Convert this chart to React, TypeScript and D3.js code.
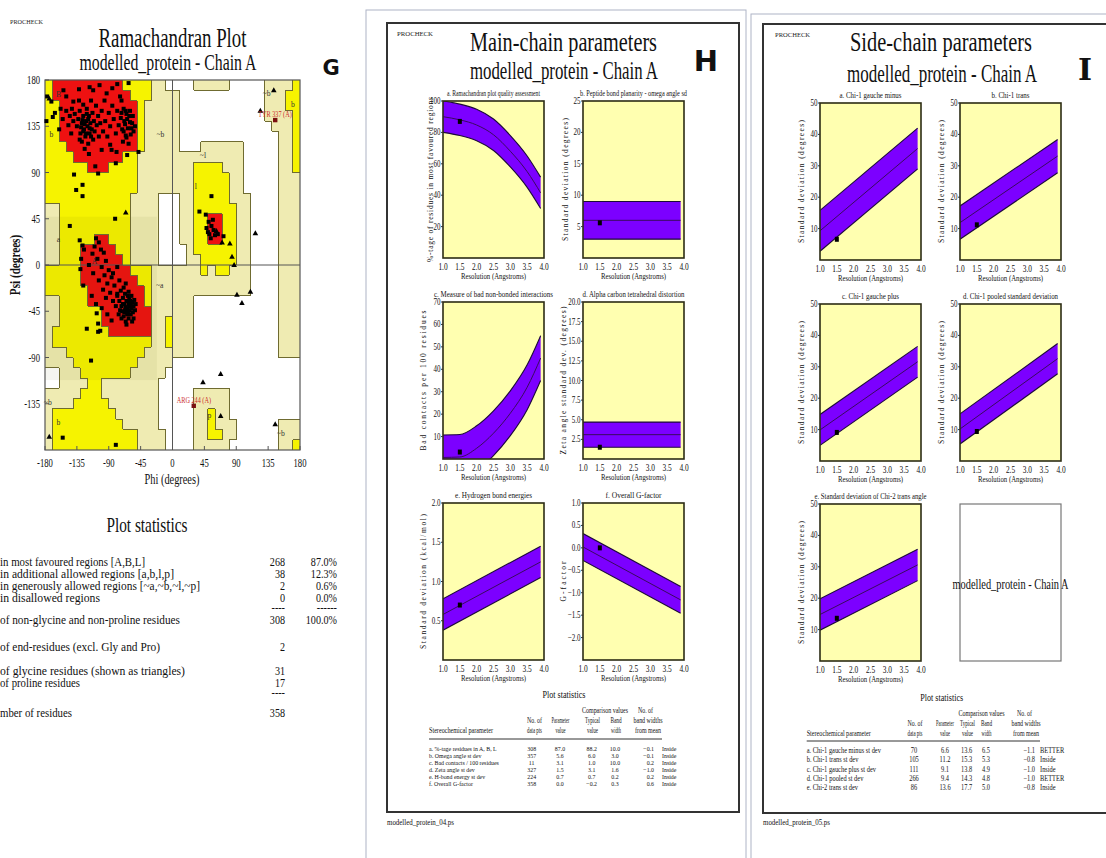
import React from "react";
import * as d3 from "d3";

const SERIF = "'Liberation Serif', 'Times New Roman', serif";
const SANS = "'DejaVu Sans', 'Liberation Sans', sans-serif";

// ---------- Ramachandran plot (G) ----------
const RAMA_TICKS = [-180, -135, -90, -45, 0, 45, 90, 135, 180];
const RAMA_Y_TICKS = [-135, -90, -45, 0, 45, 90, 135, 180];

// 10 degree cells, rows psi 180 -> -180, columns phi -180 -> 180
// R core, Y allowed, P generously allowed, . disallowed
const RAMA_ROWS = [
  "YRRRRRRRRRRYYYYPP....PPPPP.....PPPPY",
  "YRRRRRRRRRRRYYYPPPP............PPPYY",
  "YYRRRRRRRRRRRYPPPPP............PPPYY",
  "YYRRRRRRRRRRRYPPPPP............PPPPY",
  "YYRRRRRRRRRRRYPPPPP.............PPPY",
  "YYRRRRRRRRRRRYPPPPP..............PPY",
  "YYYRRRRRRRRRRYPPPPP...PPPPPP.....PPY",
  "YYYYRRRRRRRYYPPPPPPPPPPPPPPP.....PPY",
  "YYYYYYRRRYYYYPPPPPPPPYYYYPPP.....PPY",
  "YYYYYYYYYYYYYPPPPPPPPYYYYYPP.....PPP",
  "YYYYYYYYYYYYYPPPPPPPPYYYYYPP.....PPP",
  "YYYYYYYYYYYYPPPP...PPYYYYYPPP....PPP",
  "PPYYYYYYYYYYPPPP...PPYYYYYYPP....PPP",
  "PPYYYYYYYYYYPPPP...PPYYRRYYPP....PPP",
  "PPYYYYYYYYYYPPPP...PPYYRRYYPP....PPP",
  "PPYYYYYRRYYYPPPP...PPYYRRYYPP....PPP",
  "PPYYYRRRRRYYPPPP....PYYYYYYPP....PPP",
  "PPYYYRRRRRRYPPPP....PPYYYYYPP....PPP",
  "YYYYYRRRRRRRYYYPPPPPPPYPYYPPP....PPP",
  "YYYYYRRRRRRRRYYPPPPPPPPPPPPPP....PPP",
  "YYYYYYRRRRRRRRYPPPPPPPPPPPPPP....PPP",
  "PPYYYYRRRRRRRRYPPPPPP............PPP",
  "PPYYYYYYRRRRRRRPPPPPP............PPP",
  "PPYYYYYYRRRRRRRPPYPPP............PPP",
  "PYYYYYYYYRRRRRRPPYPPP............PPP",
  "PYYYYYYYYYYYYYYPPYPPP............PPP",
  "PPPYYYYYYYYYYYPPPPPPP............PPP",
  "PPPPYYYYYYYYYPPPPP..................",
  "..PPPYYYYYYYPPPPP...................",
  "..PPPPYYPPPPPPPP....................",
  "PPPPPYYYPPPPPPPP.....PPPPP..........",
  "PPPPYYYYYPPPPPPP.....PPPPP..........",
  "PYYYYYYYYYPPPPPP.....PPYPP..........",
  "PYYYYYYYYYYPPPPP.....PPYPPP......PPP",
  "PYYYYYYYYYYYYPPPP....PPYYPP......PPP",
  "PYYYYYYYYYYYYPPPP....PPPPP.......PPY",
];

const REGION_FILL: Record<string, string> = { R: "#ee1111", Y: "#f6f300", P: "#efebb2" };

const REGION_LABELS: [string, number, number][] = [
  ["B", -161, 166], ["b", -171, 127], ["~b", -17, 127], ["a", -161, 25], ["A", -110, 4],
  ["~a", -18, -19], ["~l", 43, 107], ["l", 33, 77], ["~b", 133, 167], ["b", 170, 157],
  ["~b", -176, -133], ["b", -161, -153], ["p", 52, -146], ["~b", 153, -163],
];

const RAMA_RESIDUES: [number, number][] = [
  [-62, 177], [-117, 173], [-154, 170], [-177, 164], [-171, 159], [-150, 164], [-178, 140], [-169, 144],
  [-166, 148], [-140, 159], [-126, 156], [-93, 167], [-74, 164], [-72, 160], [-69, 152], [-65, 147],
  [-60, 139], [-58, 133], [-66, 126], [-88, 117], [-79, 110], [-64, 107], [-48, 110], [-80, 99],
  [-109, 96], [-105, 89], [-139, 88], [-127, 78], [-136, 73], [-127, 67],
  [-150, 150], [-145, 145], [-142, 152], [-140, 140], [-138, 147], [-135, 135], [-133, 142], [-131, 150],
  [-130, 128], [-128, 138], [-126, 145], [-125, 132], [-123, 125], [-122, 140], [-121, 152], [-120, 135],
  [-119, 118], [-118, 145], [-117, 128], [-116, 138], [-115, 160], [-114, 132], [-113, 148], [-112, 122],
  [-111, 140], [-110, 130], [-108, 155], [-107, 136], [-105, 145], [-104, 125], [-102, 138], [-100, 150],
  [-98, 130], [-96, 160], [-95, 140], [-92, 125], [-90, 148], [-88, 135], [-85, 155], [-83, 142],
  [-80, 128], [-78, 150], [-76, 136], [-73, 143], [-71, 132], [-70, 120], [-68, 140], [-66, 150],
  [-63, 133], [-61, 145], [-59, 127], [-62, 118], [-132, 160], [-128, 120], [-124, 113], [-143, 128],
  [-147, 136], [-155, 142], [-158, 152], [-160, 132], [-118, 108], [-100, 112], [-86, 112], [-112, 170],
  [-103, 175], [-132, 171], [-85, 172], [-78, 176], [-126, 130], [-124, 137], [-122, 128], [-119, 142],
  [-127, 141], [-121, 147], [-117, 133], [-115, 125], [-129, 134], [-131, 122], [-72, 148], [-69, 130],
  [-67, 137], [-65, 124], [-64, 142], [-60, 150], [-57, 138], [-55, 130], [-56, 145], [-53, 135],
  [-145, 38], [-81, 45], [-131, 24], [-127, 19], [-125, 15], [-129, 6], [-130, -4], [-126, -20],
  [-107, -47], [-105, -57], [-121, -62], [-102, -64], [-105, -65], [-115, -93], [-80, -175], [-155, -168],
  [-108, 26], [-104, 22], [-110, 18], [-101, 15], [-113, 11], [-97, 12], [-106, 6], [-94, 4],
  [-118, 0], [-100, -2], [-90, -5], [-112, -8], [-96, -10], [-86, -12], [-104, -15], [-92, -18],
  [-82, -20], [-98, -24], [-88, -27], [-78, -28], [-94, -32], [-84, -35], [-114, -30], [-108, -38],
  [-100, -42], [-92, -48], [-86, -54],
  [-78, -30], [-75, -35], [-73, -25], [-72, -40], [-71, -45], [-70, -32], [-69, -50], [-68, -38],
  [-67, -28], [-67, -44], [-66, -55], [-65, -35], [-64, -42], [-64, -48], [-63, -30], [-62, -38],
  [-62, -52], [-61, -44], [-60, -35], [-60, -40], [-59, -48], [-58, -30], [-58, -42], [-57, -36],
  [-56, -46], [-55, -40], [-55, -52], [-54, -34], [-53, -44], [-52, -38], [-66, -41], [-63, -45],
  [-61, -33], [-59, -39], [-68, -46], [-70, -38], [-74, -44], [-76, -48], [-72, -52], [-57, -55],
  [-65, -58], [-80, -40], [-62, -26], [-69, -22], [-75, -15], [-66, -18], [-84, -8], [-78, -2],
  [55, 67], [38, 52], [47, 49], [51, 42], [55, 38], [58, 34], [50, 32], [60, 29],
  [54, 26], [64, 30], [72, 28], [48, 36], [52, 30], [57, 44],
];

const RAMA_GLYCINES: [number, number][] = [
  [-174, 162], [-66, 51], [124, 150], [143, 170], [81, 21], [84, 8], [87, 0], [117, 31],
  [91, -29], [110, -26], [98, -37], [43, -114], [68, -106], [68, -147], [145, -155], [-174, -167],
  [62, 33], [70, 22],
];

const LABELLED: { name: string; phi: number; psi: number; lx: number; ly: number }[] = [
  { name: "TYR 337 (A)", phi: 145, psi: 141, lx: 121, ly: 147 },
  { name: "ARG 244 (A)", phi: 30, psi: -137, lx: 6, ly: -131 },
];

const STAT_LABELS = [
  "in most favoured regions  [A,B,L]",
  "in additional allowed regions  [a,b,l,p]",
  "in generously allowed regions  [~a,~b,~l,~p]",
  "in disallowed regions",
  "",
  "of non-glycine and non-proline residues",
  "of end-residues (excl. Gly and Pro)",
  "of glycine residues (shown as triangles)",
  "of proline residues",
  "",
  "mber of residues",
];
const STAT_COUNTS = ["268", "38", "2", "0", "----", "308", "2", "31", "17", "----", "358"];
const STAT_PCTS = ["87.0%", "12.3%", "0.6%", "0.0%", "------", "100.0%", "", "", "", "", ""];
const STAT_LABEL_W = [145, 174, 200, 100, 0, 180, 160, 185, 80, 0, 72];
const STAT_BASELINES = [566, 578, 590, 602, 612, 624, 651, 675, 687, 697, 717];

// ---------- Main-chain (H) and side-chain (I) ----------
const RES_GRID = [1.0, 1.5, 2.0, 2.5, 3.0, 3.5, 3.9];
const RES_ENDS = [1.0, 3.9];
const RES_TICKS = [1.0, 1.5, 2.0, 2.5, 3.0, 3.5, 4.0];

const RAMA_QUALITY_MEAN = [90, 88, 84.7, 78.5, 68, 55, 41.5];
const OMEGA_SD_MEAN = [6.0, 6.0];
const BAD_CONTACTS_MEAN = [0.7, 0.9, 4.8, 11.5, 20.4, 32, 45];
const ZETA_SD_MEAN = [3.1, 3.1];
const HBOND_SD_MEAN = [0.58, 1.25];
const GFACTOR_MEAN = [0.02, -1.16];
const CHI1_GMINUS_MEAN = [9.3, 35.5];
const CHI1_TRANS_MEAN = [11.9, 33.1];
const CHI1_GPLUS_MEAN = [9.9, 31.6];
const CHI1_POOLED_MEAN = [10.2, 32.6];
const CHI2_TRANS_MEAN = [14.8, 30.6];

const MAIN_TITLES = [
  "a. Ramachandran plot quality assessment",
  "b. Peptide bond planarity - omega angle sd",
  "c. Measure of bad non-bonded interactions",
  "d. Alpha carbon tetrahedral distortion",
  "e. Hydrogen bond energies",
  "f. Overall G-factor",
];
const MAIN_YLABELS = [
  "%-tage of residues in most favoured regions",
  "Standard deviation (degrees)",
  "Bad contacts per 100 residues",
  "Zeta angle standard dev. (degrees)",
  "Standard deviation (kcal/mol)",
  "G-factor",
];
const MAIN_PARAMS = [
  "a. %-tage residues in A, B, L",
  "b. Omega angle st dev",
  "c. Bad contacts / 100 residues",
  "d. Zeta angle st dev",
  "e. H-bond energy st dev",
  "f. Overall G-factor",
];
const MAIN_NPTS = [308, 357, 11, 327, 224, 358];
const MAIN_VALUE = [87.0, 5.6, 3.1, 1.5, 0.7, 0.0];
const MAIN_TYPICAL = [88.2, 6.0, 1.0, 3.1, 0.7, -0.2];
const MAIN_BAND = [10.0, 3.0, 10.0, 1.6, 0.2, 0.3];
const MAIN_FROM_MEAN = [-0.1, -0.1, 0.2, -1.0, 0.2, 0.6];
const MAIN_VERDICT = ["Inside", "Inside", "Inside", "Inside", "Inside", "Inside"];

const SIDE_TITLES = [
  "a. Chi-1 gauche minus",
  "b. Chi-1 trans",
  "c. Chi-1 gauche plus",
  "d. Chi-1 pooled standard deviation",
  "e. Standard deviation of Chi-2 trans angle",
];
const SIDE_PARAMS = [
  "a. Chi-1 gauche minus st dev",
  "b. Chi-1 trans st dev",
  "c. Chi-1 gauche plus st dev",
  "d. Chi-1 pooled st dev",
  "e. Chi-2 trans st dev",
];
const SIDE_NPTS = [70, 105, 111, 266, 86];
const SIDE_VALUE = [6.6, 11.2, 9.1, 9.4, 13.6];
const SIDE_TYPICAL = [13.6, 15.3, 13.8, 14.3, 17.7];
const SIDE_BAND = [6.5, 5.3, 4.9, 4.8, 5.0];
const SIDE_FROM_MEAN = [-1.1, -0.8, -1.0, -1.0, -0.8];
const SIDE_VERDICT = ["BETTER", "Inside", "Inside", "BETTER", "Inside"];

type Panel = {
  id: string; x: number; y: number; title: string; titleW: number; ylabel: string; ylabelW: number; lx: number;
  domain: [number, number]; ticks: number[]; fmt: string; res: number[]; mean: number[]; band: number; value: number;
};

const PW = 101;
const PH = 157;

const MAIN_PANELS: Panel[] = [
  { id: "ma", x: 443, y: 101, title: MAIN_TITLES[0], titleW: 93, ylabel: MAIN_YLABELS[0], ylabelW: 165, lx: 10.5, domain: [0, 100], ticks: [20, 40, 60, 80, 100], fmt: "d", res: RES_GRID, mean: RAMA_QUALITY_MEAN, band: MAIN_BAND[0], value: MAIN_VALUE[0] },
  { id: "mb", x: 583, y: 101, title: MAIN_TITLES[1], titleW: 107, ylabel: MAIN_YLABELS[1], ylabelW: 123, lx: 15.5, domain: [0, 25], ticks: [5, 10, 15, 20, 25], fmt: "d", res: RES_ENDS, mean: OMEGA_SD_MEAN, band: MAIN_BAND[1], value: MAIN_VALUE[1] },
  { id: "mc", x: 443, y: 302, title: MAIN_TITLES[2], titleW: 119, ylabel: MAIN_YLABELS[2], ylabelW: 140, lx: 17.5, domain: [0, 70], ticks: [10, 20, 30, 40, 50, 60, 70], fmt: "d", res: RES_GRID, mean: BAD_CONTACTS_MEAN, band: MAIN_BAND[2], value: MAIN_VALUE[2] },
  { id: "md", x: 583, y: 302, title: MAIN_TITLES[3], titleW: 102, ylabel: MAIN_YLABELS[3], ylabelW: 148, lx: 17.5, domain: [0, 20], ticks: [2.5, 5, 7.5, 10, 12.5, 15, 17.5, 20], fmt: ".1f", res: RES_ENDS, mean: ZETA_SD_MEAN, band: MAIN_BAND[3], value: MAIN_VALUE[3] },
  { id: "me", x: 443, y: 503, title: MAIN_TITLES[4], titleW: 77, ylabel: MAIN_YLABELS[4], ylabelW: 135, lx: 17.5, domain: [0, 2], ticks: [0.5, 1, 1.5, 2], fmt: ".1f", res: RES_ENDS, mean: HBOND_SD_MEAN, band: MAIN_BAND[4], value: MAIN_VALUE[4] },
  { id: "mf", x: 583, y: 503, title: MAIN_TITLES[5], titleW: 56, ylabel: MAIN_YLABELS[5], ylabelW: 40, lx: 17.5, domain: [-2.5, 1], ticks: [-2, -1.5, -1, -0.5, 0, 0.5, 1], fmt: ".1f", res: RES_ENDS, mean: GFACTOR_MEAN, band: MAIN_BAND[5], value: MAIN_VALUE[5] },
];

const SIDE_YLABEL = "Standard deviation (degrees)";
const SIDE_MEANS = [CHI1_GMINUS_MEAN, CHI1_TRANS_MEAN, CHI1_GPLUS_MEAN, CHI1_POOLED_MEAN, CHI2_TRANS_MEAN];
const SIDE_POS: [number, number][] = [[820, 103], [960, 103], [820, 304], [960, 304], [820, 504]];
const SIDE_TITLE_W = [62, 38, 57, 95, 112];

const SIDE_PANELS: Panel[] = SIDE_TITLES.map((t, i) => ({
  id: "s" + i, x: SIDE_POS[i][0], y: SIDE_POS[i][1], title: t, titleW: SIDE_TITLE_W[i], ylabel: SIDE_YLABEL, ylabelW: 123, lx: 16,
  domain: [0, 50], ticks: [10, 20, 30, 40, 50], fmt: "d", res: RES_ENDS, mean: SIDE_MEANS[i], band: SIDE_BAND[i], value: SIDE_VALUE[i],
}));

// ---------- text helper ----------
type TP = {
  x: number; y: number; s: number; a?: "start" | "middle" | "end"; w?: number; rot?: boolean; fill?: string;
  bold?: boolean; font?: string; adj?: "spacing" | "spacingAndGlyphs"; sq?: number; children: React.ReactNode;
};

function T({ x, y, s, a = "start", w, rot, fill = "#111", bold, font = SERIF, adj = "spacingAndGlyphs", sq = 0.74, children }: TP) {
  const common = { fontSize: s, textAnchor: a, fill, fontFamily: font, fontWeight: bold ? 700 : 400 };
  const base = `translate(${x},${y})${rot ? " rotate(-90)" : ""}`;
  if (w) {
    return (
      <text {...common} transform={base} textLength={w} lengthAdjust={adj}>
        {children}
      </text>
    );
  }
  return (
    <text {...common} transform={`${base} scale(${sq},1)`}>
      {children}
    </text>
  );
}

function Ramachandran() {
  const x = d3.scaleLinear().domain([-180, 180]).range([45, 300]);
  const y = d3.scaleLinear().domain([180, -180]).range([80, 450]);
  const cells: React.ReactNode[] = [];
  const edges: React.ReactNode[] = [];
  RAMA_ROWS.forEach((row, r) => {
    for (let c = 0; c < 36; c++) {
      const k = row[c];
      const phi = -180 + c * 10;
      const psi = 180 - r * 10;
      if (k !== ".") {
        cells.push(
          <rect key={`c${r}-${c}`} x={x(phi)} y={y(psi)} width={x(phi + 10) - x(phi)} height={y(psi - 10) - y(psi)} fill={REGION_FILL[k]} />
        );
      }
      if (c < 35 && row[c + 1] !== k) {
        edges.push(<line key={`v${r}-${c}`} x1={x(phi + 10)} x2={x(phi + 10)} y1={y(psi)} y2={y(psi - 10)} />);
      }
      if (r < 35 && RAMA_ROWS[r + 1][c] !== k) {
        edges.push(<line key={`h${r}-${c}`} x1={x(phi)} x2={x(phi + 10)} y1={y(psi - 10)} y2={y(psi - 10)} />);
      }
    }
  });
  const tri = (px: number, py: number) => `M${px},${py - 3}L${px + 2.8},${py + 2}L${px - 2.8},${py + 2}Z`;

  return (
    <g>
      <T x={10} y={24} s={7} w={33} fill="#222">PROCHECK</T>
      <T x={172.5} y={46.5} s={27} a="middle" w={148}>Ramachandran Plot</T>
      <T x={168} y={70} s={24} a="middle" w={177}>modelled_protein - Chain A</T>
      <T x={331} y={75} s={21} a="middle" bold font={SANS} sq={1}>G</T>

      <rect x={45} y={80} width={255} height={370} fill="#fff" />
      <g shapeRendering="crispEdges">{cells}</g>
      <rect x={x(-180)} y={y(47)} width={x(-22) - x(-180)} height={y(-112) - y(47)} fill="#5a5a00" opacity={0.06} />
      <g stroke="#6f6b30" strokeWidth={1} shapeRendering="crispEdges">{edges}</g>
      <line x1={x(0)} x2={x(0)} y1={80} y2={450} stroke="#555" strokeWidth={1} />
      <line x1={45} x2={300} y1={y(0)} y2={y(0)} stroke="#555" strokeWidth={1} />
      <rect x={45} y={80} width={255} height={370} fill="none" stroke="#555" strokeWidth={1.2} />

      {REGION_LABELS.map(([t, phi, psi], i) => (
        <T key={"rl" + i} x={x(phi)} y={y(psi) + 3} s={9} a="middle" fill="#333" sq={0.85}>{t}</T>
      ))}

      {RAMA_RESIDUES.map(([phi, psi], i) => (
        <rect key={"p" + i} x={x(phi) - 2} y={y(psi) - 2} width={4} height={4} fill="#000" />
      ))}
      {RAMA_GLYCINES.map(([phi, psi], i) => (
        <path key={"g" + i} d={tri(x(phi), y(psi))} fill="#000" />
      ))}
      {LABELLED.map((d) => (
        <g key={d.name}>
          <rect x={x(d.phi) - 2.2} y={y(d.psi) - 2.2} width={4.4} height={4.4} fill="#7a1010" />
          <T x={x(d.lx)} y={y(d.ly) + 3} s={8} fill="#cc2a2a" sq={0.78}>{d.name}</T>
        </g>
      ))}

      {RAMA_Y_TICKS.map((v) => (
        <g key={"yt" + v}>
          <line x1={45} x2={49} y1={y(v)} y2={y(v)} stroke="#555" />
          <T x={40} y={y(v) + 4} s={12} a="end" sq={0.72}>{v}</T>
        </g>
      ))}
      {RAMA_TICKS.map((v) => (
        <g key={"xt" + v}>
          <line x1={x(v)} x2={x(v)} y1={450} y2={446} stroke="#555" />
          <T x={x(v)} y={467} s={12} a="middle" sq={0.72}>{v}</T>
        </g>
      ))}
      <T x={172} y={484} s={14} a="middle" sq={0.74}>Phi (degrees)</T>
      <T x={20} y={265} s={14} a="middle" rot bold sq={0.8}>Psi (degrees)</T>

      <T x={147} y={532} s={21} a="middle" w={81}>Plot statistics</T>
      {STAT_LABELS.map((t, i) => (
        <g key={"st" + i}>
          {t && <T x={0} y={STAT_BASELINES[i]} s={13.5} w={STAT_LABEL_W[i]}>{t}</T>}
          {STAT_COUNTS[i] && <T x={285} y={STAT_BASELINES[i]} s={13.5} a="end" sq={0.75}>{STAT_COUNTS[i]}</T>}
          {STAT_PCTS[i] && <T x={337} y={STAT_BASELINES[i]} s={13.5} a="end" sq={0.75}>{STAT_PCTS[i]}</T>}
        </g>
      ))}
    </g>
  );
}

function BandPanel({ p }: { p: Panel }) {
  const x = d3.scaleLinear().domain([1, 4]).range([p.x, p.x + PW]);
  const y = d3.scaleLinear().domain(p.domain).range([p.y + PH, p.y]);
  const pts = p.res.map((r, i) => ({ r, m: p.mean[i] }));
  const curve = d3.curveMonotoneX;
  const area = d3
    .area<{ r: number; m: number }>()
    .x((d) => x(d.r))
    .y0((d) => y(d.m - p.band))
    .y1((d) => y(d.m + p.band))
    .curve(curve);
  const line = (off: number) =>
    d3
      .line<{ r: number; m: number }>()
      .x((d) => x(d.r))
      .y((d) => y(d.m + off))
      .curve(curve)(pts) || "";
  const clipId = `clip-${p.id}`;
  const fmt = d3.format(p.fmt);
  return (
    <g>
      <defs>
        <clipPath id={clipId}>
          <rect x={p.x} y={p.y} width={PW} height={PH} />
        </clipPath>
      </defs>
      <rect x={p.x} y={p.y} width={PW} height={PH} fill="#ffffb0" />
      <g clipPath={`url(#${clipId})`}>
        <path d={area(pts) || ""} fill="#7c00ff" />
        <path d={line(p.band)} fill="none" stroke="#1c0a3a" strokeWidth={1.1} />
        <path d={line(-p.band)} fill="none" stroke="#1c0a3a" strokeWidth={1.1} />
        <path d={line(0)} fill="none" stroke="#3a0a60" strokeWidth={1} />
      </g>
      <rect x={p.x} y={p.y} width={PW} height={PH} fill="none" stroke="#2c2c14" strokeWidth={1.6} />
      <rect x={x(1.5) - 2} y={y(p.value) - 2.5} width={4} height={5} fill="#000" />

      <T x={p.x + PW / 2} y={p.y - 5.5} s={7.5} a="middle" w={p.titleW}>{p.title}</T>
      {p.ticks.map((v) => (
        <g key={v}>
          <line x1={p.x - 2} x2={p.x} y1={y(v)} y2={y(v)} stroke="#333" />
          <T x={p.x - 2.5} y={y(v) + 3} s={9.5} a="end" sq={0.74}>{fmt(v)}</T>
        </g>
      ))}
      {RES_TICKS.map((v) => (
        <T key={v} x={x(v)} y={p.y + PH + 12} s={10} a="middle" sq={0.74}>{d3.format(".1f")(v)}</T>
      ))}
      <T x={p.x + PW / 2} y={p.y + PH + 21} s={8} a="middle" w={65}>Resolution (Angstroms)</T>
      <T x={p.x - p.lx} y={p.y + PH / 2} s={7.5} a="middle" rot w={p.ylabelW} adj="spacing">{p.ylabel}</T>
    </g>
  );
}

type TableCfg = {
  title: [number, number]; comp: [number, number]; bw: [number, number];
  h2: number; h3: number; hx: number[]; line: [number, number, number];
  rowY: number; rowStep: number; cols: number[]; fs: number; sq: number;
  names: string[]; npts: number[]; vals: number[]; typ: number[]; band: number[]; dev: number[]; verdict: string[];
};

function StatsTable({ c }: { c: TableCfg }) {
  const f1 = d3.format(".1f");
  const [cNpts, cVal, cTyp, cBand, cDev, cVer] = c.cols;
  return (
    <g>
      <T x={c.title[0]} y={c.title[1]} s={11} a="middle" w={43}>Plot statistics</T>
      <T x={c.comp[0]} y={c.comp[1]} s={7.5} a="middle" w={46}>Comparison values</T>
      <T x={c.bw[0]} y={c.bw[1]} s={7.5} a="middle" w={15}>No. of</T>
      <T x={c.hx[0]} y={c.h2} s={7.5} a="middle" w={15}>No. of</T>
      <T x={c.hx[1]} y={c.h2} s={7.5} a="middle" w={18}>Parameter</T>
      <T x={c.hx[2]} y={c.h2} s={7.5} a="middle" w={15}>Typical</T>
      <T x={c.hx[3]} y={c.h2} s={7.5} a="middle" w={11}>Band</T>
      <T x={c.hx[4]} y={c.h2} s={7.5} a="middle" w={29}>band widths</T>
      <T x={c.line[0]} y={c.h3} s={7.5} w={64}>Stereochemical parameter</T>
      <T x={c.hx[0]} y={c.h3} s={7.5} a="middle" w={15}>data pts</T>
      <T x={c.hx[1]} y={c.h3} s={7.5} a="middle" w={10}>value</T>
      <T x={c.hx[2]} y={c.h3} s={7.5} a="middle" w={11}>value</T>
      <T x={c.hx[3]} y={c.h3} s={7.5} a="middle" w={10}>width</T>
      <T x={c.hx[4]} y={c.h3} s={7.5} a="middle" w={26}>from mean</T>
      <line x1={c.line[0]} x2={c.line[1]} y1={c.line[2]} y2={c.line[2]} stroke="#333" strokeWidth={1} />
      {c.names.map((n, i) => {
        const yy = c.rowY + i * c.rowStep;
        return (
          <g key={n}>
            <T x={c.line[0]} y={yy} s={c.fs} sq={c.sq}>{n}</T>
            <T x={cNpts} y={yy} s={c.fs} a="middle" sq={c.sq}>{c.npts[i]}</T>
            <T x={cVal} y={yy} s={c.fs} a="middle" sq={c.sq}>{f1(c.vals[i])}</T>
            <T x={cTyp} y={yy} s={c.fs} a="middle" sq={c.sq}>{f1(c.typ[i])}</T>
            <T x={cBand} y={yy} s={c.fs} a="middle" sq={c.sq}>{f1(c.band[i])}</T>
            <T x={cDev} y={yy} s={c.fs} a="end" sq={c.sq}>{f1(c.dev[i])}</T>
            <T x={cVer} y={yy} s={c.fs} sq={c.sq}>{c.verdict[i]}</T>
          </g>
        );
      })}
    </g>
  );
}

const MAIN_TABLE: TableCfg = {
  title: [564, 698], comp: [605, 713], bw: [645.5, 713], h2: 722.5, h3: 732.5,
  hx: [534.5, 560.5, 592.5, 616, 648], line: [429, 662, 739], rowY: 750.5, rowStep: 7,
  cols: [531.7, 560, 591.7, 615, 654, 662], fs: 7, sq: 0.84,
  names: MAIN_PARAMS, npts: MAIN_NPTS, vals: MAIN_VALUE, typ: MAIN_TYPICAL, band: MAIN_BAND, dev: MAIN_FROM_MEAN, verdict: MAIN_VERDICT,
};

const SIDE_TABLE: TableCfg = {
  title: [941.7, 701], comp: [981.5, 716], bw: [1024.5, 716], h2: 725.5, h3: 735.5,
  hx: [915, 945, 967.5, 986.5, 1026], line: [806.7, 1040, 741], rowY: 753, rowStep: 9.3,
  cols: [914, 945, 966.7, 986, 1035, 1040], fs: 8, sq: 0.8,
  names: SIDE_PARAMS, npts: SIDE_NPTS, vals: SIDE_VALUE, typ: SIDE_TYPICAL, band: SIDE_BAND, dev: SIDE_FROM_MEAN, verdict: SIDE_VERDICT,
};

export default function App() {
  return (
    <svg
      width={1106}
      height={858}
      viewBox="0 0 1106 858"
      style={{ position: "absolute", left: 0, top: 0, background: "#fff" }}
      fontFamily={SERIF}
    >
      <rect width={1106} height={858} fill="#fff" />
      <Ramachandran />

      {/* page outlines */}
      <rect x={366} y={10} width={380} height={870} fill="none" stroke="#aeb4c6" strokeWidth={1} />
      <rect x={751} y={14} width={380} height={870} fill="none" stroke="#aeb4c6" strokeWidth={1} />

      {/* H: main-chain */}
      <rect x={387} y={23} width={352} height={789} fill="#fff" stroke="#333" strokeWidth={2} />
      <T x={397} y={36} s={7} w={36} fill="#222">PROCHECK</T>
      <T x={563.5} y={50.5} s={28} a="middle" w={187}>Main-chain parameters</T>
      <T x={564} y={79} s={26} a="middle" w={188}>modelled_protein - Chain A</T>
      <T x={706} y={71} s={29} a="middle" bold font={SANS} sq={1}>H</T>
      {MAIN_PANELS.map((p) => (
        <BandPanel key={p.id} p={p} />
      ))}
      <StatsTable c={MAIN_TABLE} />
      <T x={387} y={825} s={8.5} w={67}>modelled_protein_04.ps</T>

      {/* I: side-chain */}
      <rect x={763} y={24} width={360} height={789} fill="#fff" stroke="#333" strokeWidth={2} />
      <T x={775} y={37} s={7} w={35} fill="#222">PROCHECK</T>
      <T x={941} y={51} s={27} a="middle" w={182}>Side-chain parameters</T>
      <T x={942} y={82} s={26} a="middle" w={190}>modelled_protein - Chain A</T>
      <T x={1085} y={80} s={30} a="middle" bold font="'DejaVu Serif', serif" sq={1}>I</T>
      {SIDE_PANELS.map((p) => (
        <BandPanel key={p.id} p={p} />
      ))}
      <rect x={960} y={504} width={PW} height={PH} fill="#fff" stroke="#777" strokeWidth={1.2} />
      <T x={1010.5} y={589} s={15} a="middle" w={116}>modelled_protein - Chain A</T>
      <StatsTable c={SIDE_TABLE} />
      <T x={763} y={825} s={8.5} w={67}>modelled_protein_05.ps</T>
    </svg>
  );
}
